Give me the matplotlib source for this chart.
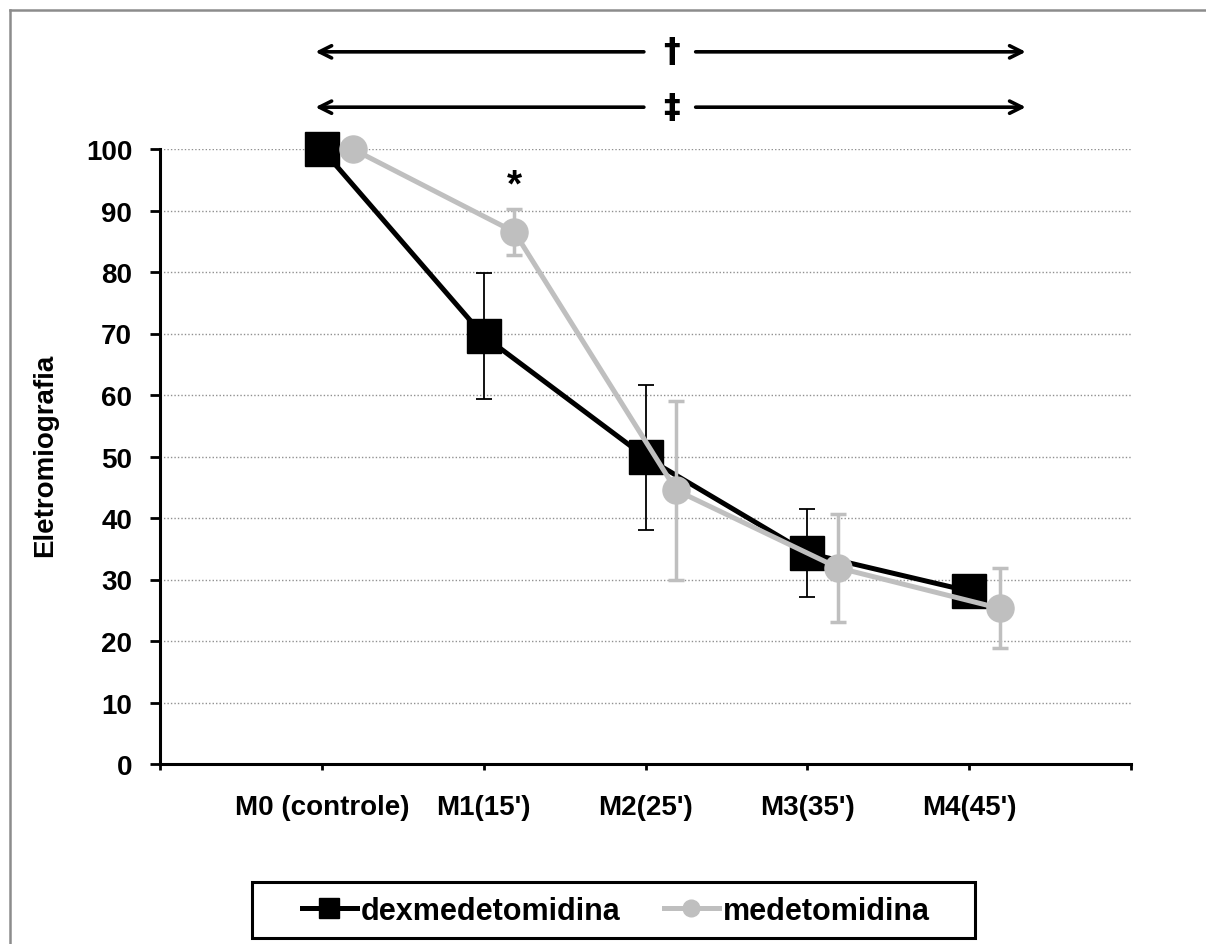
import matplotlib
matplotlib.use("Agg")
import matplotlib.pyplot as plt
from matplotlib.lines import Line2D
from matplotlib.patches import Rectangle
import numpy as np

plt.rcParams['font.family'] = ['Liberation Sans', 'DejaVu Sans']
plt.rcParams['font.weight'] = 'bold'

categories = ["M0 (controle)", "M1(15')", "M2(25')", "M3(35')", "M4(45')"]
dex_mean = [100, 69.6, 49.9, 34.3, 28.1]
dex_err = [0, 10.2, 11.8, 7.1, 1.5]
med_mean = [100, 86.5, 44.5, 31.9, 25.3]
med_err = [0, 3.7, 14.6, 8.8, 6.5]
series_names = ["dexmedetomidina", "medetomidina"]

W, H = 1206, 945
fig = plt.figure(figsize=(W / 100, H / 100), dpi=100)
ax = fig.add_axes([160 / W, 1 - 765 / H, (1131 - 160) / W, (765 - 150) / H])

x = np.arange(1, len(categories) + 1)
offset = 0.19
gray = '#BFBFBF'

ax.errorbar(x, dex_mean, yerr=dex_err, color='black', lw=3.6, marker='s', ms=24,
            mfc='black', mec='black', ecolor='black', elinewidth=1.3, capsize=6,
            capthick=1.3, clip_on=False, zorder=3, label=series_names[0])
ax.errorbar(x + offset, med_mean, yerr=med_err, color=gray, lw=3.6, marker='o', ms=19.5,
            mfc=gray, mec=gray, ecolor=gray, elinewidth=2.5, capsize=6,
            capthick=2.5, clip_on=False, zorder=4, label=series_names[1])

ax.set_xlim(0, 6)
ax.set_ylim(0, 100)
ax.set_yticks(np.arange(0, 101, 10))
ax.set_xticks(np.arange(0, 7))
ax.set_xticklabels([""] + categories + [""])
ax.yaxis.grid(True, linestyle=(0, (1, 1.5)), color='#909090', lw=1.0)
ax.set_axisbelow(True)

for s in ['top', 'right']:
    ax.spines[s].set_visible(False)
for s in ['left', 'bottom']:
    ax.spines[s].set_linewidth(2.2)
ax.tick_params(axis='y', direction='out', length=7, width=2, labelsize=20, pad=13)
ax.tick_params(axis='x', direction='out', length=4.5, width=2, labelsize=20, pad=17)
for lab in ax.get_xticklabels() + ax.get_yticklabels():
    lab.set_fontweight('bold')

ax.set_ylabel("Eletromiografia", fontsize=20, fontweight='bold')
ax.yaxis.set_label_coords((58 - 160) / (1131 - 160), (765 - 455) / (765 - 150))

# significance arrows
for yv, sym in [(115.8, '\u2020'), (106.8, '\u2021')]:
    ax.annotate('', xy=(0.96, yv), xytext=(2.99, yv), xycoords='data',
                arrowprops=dict(arrowstyle='->', lw=2.6, color='black',
                                mutation_scale=22, shrinkA=0, shrinkB=0),
                annotation_clip=False)
    ax.annotate('', xy=(5.35, yv), xytext=(3.31, yv), xycoords='data',
                arrowprops=dict(arrowstyle='->', lw=2.6, color='black',
                                mutation_scale=22, shrinkA=0, shrinkB=0),
                annotation_clip=False)
    ax.text(3.16, yv, sym, ha='center', va='center', fontsize=24,
            fontweight='bold', clip_on=False, family=['DejaVu Sans'])

ax.text(2 + offset, 94.0, '*', ha='center', va='center', fontsize=28,
        fontweight='bold', clip_on=False)

# legend
handles = [Line2D([0], [0], color='black', lw=3.6, marker='s', ms=14, mfc='black', mec='black'),
           Line2D([0], [0], color=gray, lw=3.6, marker='o', ms=12, mfc=gray, mec=gray)]
leg = fig.legend(handles, series_names, loc='center',
                 bbox_to_anchor=(616 / W, 1 - 912 / H), ncol=2, frameon=False,
                 prop={'weight': 'bold', 'size': 22},
                 handlelength=1.8, handletextpad=0.15, columnspacing=1.4,
                 borderpad=0.3, borderaxespad=0)
fig.add_artist(Rectangle((252 / W, 1 - 939 / H), (975 - 252) / W, (939 - 883) / H,
                         transform=fig.transFigure, fill=False, edgecolor='black',
                         lw=2.2))

# figure border (top and left)
fig.add_artist(Line2D([10 / W, 1], [1 - 11 / H, 1 - 11 / H], color='#8C8C8C', lw=1.8))
fig.add_artist(Line2D([10 / W, 10 / W], [0, 1 - 11 / H], color='#8C8C8C', lw=1.8))

fig.savefig("out.png", dpi=100)
